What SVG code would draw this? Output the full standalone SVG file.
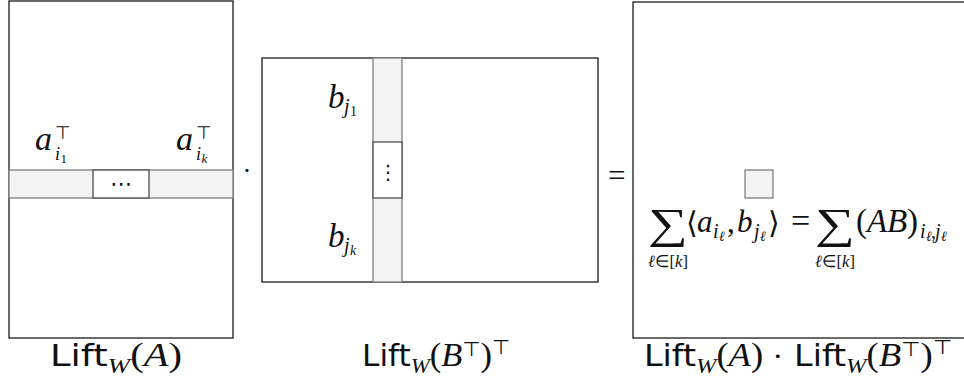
<svg xmlns="http://www.w3.org/2000/svg" width="964" height="392" viewBox="0 0 964 392">
<style>
.mat{fill:#fff;stroke:#1a1a1a;stroke-width:1.3}
.band{fill:#f3f3f3;stroke:#808080;stroke-width:1.3}
.ell{fill:#fff;stroke:#4d4d4d;stroke-width:1.3}
.mi{font-family:"Liberation Serif",serif;font-style:italic;fill:#111}
.mr{font-family:"Liberation Serif",serif;font-style:normal;fill:#111}
.sf{font-family:"DejaVu Sans",sans-serif;font-style:normal;fill:#111}
.sym{font-family:"DejaVu Serif",serif;font-style:normal;fill:#111}
.ds{font-family:"DejaVu Sans",sans-serif;font-style:normal;fill:#111}
</style>
<rect width="964" height="392" fill="#fff"/>
<g id="matrix-A">
  <rect class="mat" x="9" y="1" width="224" height="337"/>
  <rect class="band" x="9" y="170" width="224" height="28"/>
  <rect class="ell" x="93" y="170" width="56" height="28"/>
  <text class="ds" x="121" y="191" font-size="22" text-anchor="middle">⋯</text>
  <text class="mi" font-size="34"><tspan x="35" y="150">a</tspan><tspan class="ds" font-size="18" x="55" y="139">⊤</tspan><tspan font-size="18" x="55" y="160">i</tspan><tspan class="mr" font-size="13" x="60.500" y="163">1</tspan></text>
  <text class="mi" font-size="34"><tspan x="176" y="150">a</tspan><tspan class="ds" font-size="18" x="196" y="139">⊤</tspan><tspan font-size="18" x="196" y="160">i</tspan><tspan font-size="13" x="201.500" y="163">k</tspan></text>
  <text x="50" y="366" textLength="132" lengthAdjust="spacingAndGlyphs"><tspan class="sf" font-size="30">Lift</tspan><tspan class="mi" font-size="22" dy="7">W</tspan><tspan class="mr" font-size="33" dy="-7">(</tspan><tspan class="mi" font-size="33">A</tspan><tspan class="mr" font-size="33">)</tspan></text>
</g>
<g id="operators">
  <text class="mr" x="247" y="180" font-size="28" text-anchor="middle">·</text>
  <text class="mr" x="608" y="186" font-size="31">=</text>
</g>
<g id="matrix-B">
  <rect class="mat" x="262" y="58" width="336" height="224"/>
  <rect class="band" x="373" y="58" width="29" height="224"/>
  <rect class="ell" x="373" y="142" width="29" height="56"/>
  <text class="ds" x="388" y="179" font-size="20" text-anchor="middle">⋮</text>
  <text class="mi" font-size="33"><tspan x="328" y="108">b</tspan><tspan font-size="20" x="344" y="113">j</tspan><tspan class="mr" font-size="14" x="350" y="116">1</tspan></text>
  <text class="mi" font-size="33"><tspan x="328" y="247">b</tspan><tspan font-size="20" x="344" y="252">j</tspan><tspan font-size="14" x="350" y="255">k</tspan></text>
  <text x="362" y="366" textLength="148" lengthAdjust="spacingAndGlyphs"><tspan class="sf" font-size="30">Lift</tspan><tspan class="mi" font-size="22" dy="7">W</tspan><tspan class="mr" font-size="33" dy="-7">(</tspan><tspan class="mi" font-size="33">B</tspan><tspan class="ds" font-size="20" dy="-10">⊤</tspan><tspan class="mr" font-size="33" dy="10">)</tspan><tspan class="ds" font-size="20" dy="-12">⊤</tspan></text>
</g>
<g id="matrix-C">
  <rect class="mat" x="633" y="2" width="340" height="336"/>
  <rect class="band" x="745" y="170" width="28" height="28"/>
  <text class="mr" transform="translate(668,238) scale(1.3,1)" x="0" y="0" font-size="43" text-anchor="middle">∑</text>
  <text class="mi" x="648" y="267" font-size="17" textLength="40" lengthAdjust="spacingAndGlyphs">ℓ<tspan class="mr">∈[</tspan>k<tspan class="mr">]</tspan></text>
  <text class="mi" font-size="31"><tspan class="sym" font-size="30" x="686" y="233">⟨</tspan><tspan x="697" y="232">a</tspan><tspan font-size="20" x="713" y="238">i</tspan><tspan font-size="14" x="719" y="241">ℓ</tspan><tspan class="mr" x="727" y="232">,</tspan><tspan x="737" y="232">b</tspan><tspan font-size="20" x="754" y="238">j</tspan><tspan font-size="14" x="760" y="241">ℓ</tspan><tspan class="sym" font-size="30" x="768" y="233">⟩</tspan><tspan class="mr" font-size="34" x="791" y="232">=</tspan></text>
  <text class="mr" transform="translate(835,238) scale(1.3,1)" x="0" y="0" font-size="43" text-anchor="middle">∑</text>
  <text class="mi" x="815" y="267" font-size="17" textLength="40" lengthAdjust="spacingAndGlyphs">ℓ<tspan class="mr">∈[</tspan>k<tspan class="mr">]</tspan></text>
  <text class="mi" font-size="33"><tspan class="mr" x="856" y="232">(</tspan><tspan x="867" y="232">A</tspan><tspan x="887" y="232">B</tspan><tspan class="mr" x="907" y="232">)</tspan><tspan font-size="20" x="920" y="238">i</tspan><tspan font-size="14" x="926" y="241">ℓ</tspan><tspan class="mr" font-size="20" x="931" y="238">,</tspan><tspan font-size="20" x="935" y="238">j</tspan><tspan font-size="14" x="941" y="241">ℓ</tspan></text>
  <text x="644" y="366" textLength="308" lengthAdjust="spacingAndGlyphs"><tspan class="sf" font-size="30">Lift</tspan><tspan class="mi" font-size="22" dy="7">W</tspan><tspan class="mr" font-size="33" dy="-7">(</tspan><tspan class="mi" font-size="33">A</tspan><tspan class="mr" font-size="33">) </tspan><tspan class="mr" font-size="30">·</tspan><tspan class="sf" font-size="30"> Lift</tspan><tspan class="mi" font-size="22" dy="7">W</tspan><tspan class="mr" font-size="33" dy="-7">(</tspan><tspan class="mi" font-size="33">B</tspan><tspan class="ds" font-size="20" dy="-10">⊤</tspan><tspan class="mr" font-size="33" dy="10">)</tspan><tspan class="ds" font-size="20" dy="-12">⊤</tspan></text>
</g>
<g id="connectors"/>
</svg>
